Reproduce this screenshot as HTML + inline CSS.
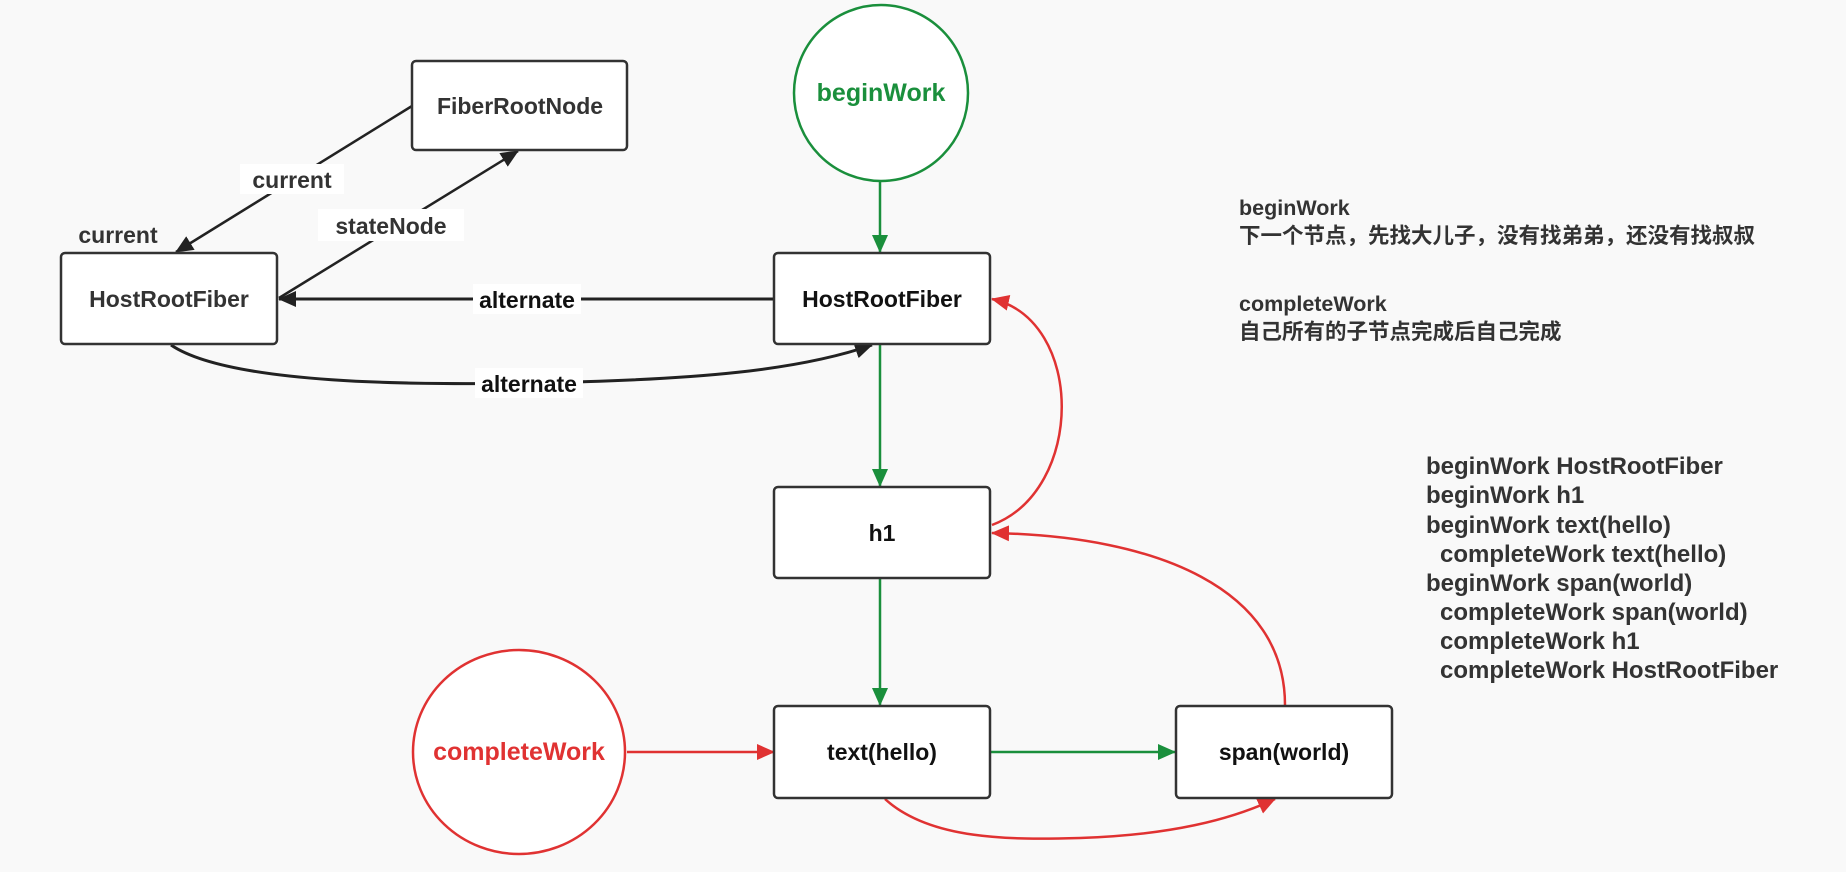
<!DOCTYPE html>
<html><head><meta charset="utf-8"><style>
html,body{margin:0;padding:0;background:#f9f9f9;}
svg{display:block;}
text{font-family:"Liberation Sans","Noto Sans CJK SC",sans-serif;}
</style></head><body>
<svg width="1846" height="872" viewBox="0 0 1846 872" xmlns="http://www.w3.org/2000/svg">
<defs>
<marker id="ab2" markerWidth="18" markerHeight="16" refX="17" refY="8" orient="auto" markerUnits="userSpaceOnUse"><path d="M0,0 L18,8 L0,16 z" fill="#222"/></marker>
<marker id="ag" markerWidth="18" markerHeight="16" refX="17" refY="8" orient="auto" markerUnits="userSpaceOnUse"><path d="M0,0 L18,8 L0,16 z" fill="#1a8f3c"/></marker>
<marker id="ar" markerWidth="18" markerHeight="16" refX="17" refY="8" orient="auto" markerUnits="userSpaceOnUse"><path d="M0,0 L18,8 L0,16 z" fill="#e03232"/></marker>
</defs>
<g fill="none" stroke="#222" stroke-width="2.5">
<line x1="412" y1="106" x2="176" y2="252" marker-end="url(#ab2)"/>
<line x1="279" y1="298" x2="518" y2="151" marker-end="url(#ab2)"/>
<line x1="773" y1="299" x2="279" y2="299" marker-end="url(#ab2)" stroke-width="3"/>
<path d="M171 345 C230 385 420 385 532 383 C700 380 800 370 872 345" marker-end="url(#ab2)" stroke-width="3"/>
</g>
<g fill="none" stroke="#1a8f3c" stroke-width="2.5">
<line x1="880" y1="182" x2="880" y2="252" marker-end="url(#ag)"/>
<line x1="880" y1="345" x2="880" y2="486" marker-end="url(#ag)"/>
<line x1="880" y1="579" x2="880" y2="705" marker-end="url(#ag)"/>
<line x1="991" y1="752" x2="1175" y2="752" marker-end="url(#ag)"/>
</g>
<g fill="none" stroke="#e03232" stroke-width="2.5">
<line x1="627" y1="752" x2="774" y2="752" marker-end="url(#ar)"/>
<path d="M885 799 C930 840 1010 840 1080 838 C1170 835 1230 820 1275 799" marker-end="url(#ar)"/>
<path d="M1285 705 C1285 590 1160 536 992 533" marker-end="url(#ar)"/>
<path d="M992 525 C1085 490 1085 320 992 299" marker-end="url(#ar)"/>
</g>
<g fill="#ffffff">
<rect x="240" y="164" width="104" height="30"/>
<rect x="318" y="209" width="146" height="32"/>
<rect x="473" y="284" width="108" height="30"/>
<rect x="475" y="368" width="108" height="30"/>
</g>
<g font-size="23" font-weight="bold" fill="#333" text-anchor="middle">
<text x="292" y="188">current</text>
<text x="118" y="243">current</text>
<text x="391" y="234">stateNode</text>
<text x="527" y="308" fill="#111">alternate</text>
<text x="529" y="392" fill="#111">alternate</text>
</g>
<g fill="#fff" stroke="#333" stroke-width="2.5">
<rect x="412" y="61" width="215" height="89" rx="4"/>
<rect x="61" y="253" width="216" height="91" rx="4"/>
<rect x="774" y="253" width="216" height="91" rx="4"/>
<rect x="774" y="487" width="216" height="91" rx="4"/>
<rect x="774" y="706" width="216" height="92" rx="4"/>
<rect x="1176" y="706" width="216" height="92" rx="4"/>
</g>
<ellipse cx="881" cy="93" rx="87" ry="88" fill="#fff" stroke="#1a8f3c" stroke-width="2.5"/>
<ellipse cx="519" cy="752" rx="106" ry="102" fill="#fff" stroke="#e03232" stroke-width="2.5"/>
<g font-size="23" font-weight="bold" fill="#111" text-anchor="middle">
<text x="520" y="114" fill="#333">FiberRootNode</text>
<text x="169" y="307" fill="#333">HostRootFiber</text>
<text x="882" y="307">HostRootFiber</text>
<text x="882" y="541">h1</text>
<text x="882" y="760">text(hello)</text>
<text x="1284" y="760">span(world)</text>
<text x="881" y="101" fill="#1a8f3c" font-size="25">beginWork</text>
<text x="519" y="760" fill="#e03232" font-size="25">completeWork</text>
</g>
<g font-size="21.5" font-weight="bold" fill="#333">
<text x="1239" y="215">beginWork</text>
<text x="1239" y="243">下一个节点，先找大儿子，没有找弟弟，还没有找叔叔</text>
<text x="1239" y="311">completeWork</text>
<text x="1239" y="339">自己所有的子节点完成后自己完成</text>
</g>
<g font-size="24" font-weight="bold" fill="#333">
<text x="1426" y="474">beginWork HostRootFiber</text>
<text x="1426" y="503">beginWork h1</text>
<text x="1426" y="533">beginWork text(hello)</text>
<text x="1440" y="562">completeWork text(hello)</text>
<text x="1426" y="591">beginWork span(world)</text>
<text x="1440" y="620">completeWork span(world)</text>
<text x="1440" y="649">completeWork h1</text>
<text x="1440" y="678">completeWork HostRootFiber</text>
</g>
</svg>
</body></html>
